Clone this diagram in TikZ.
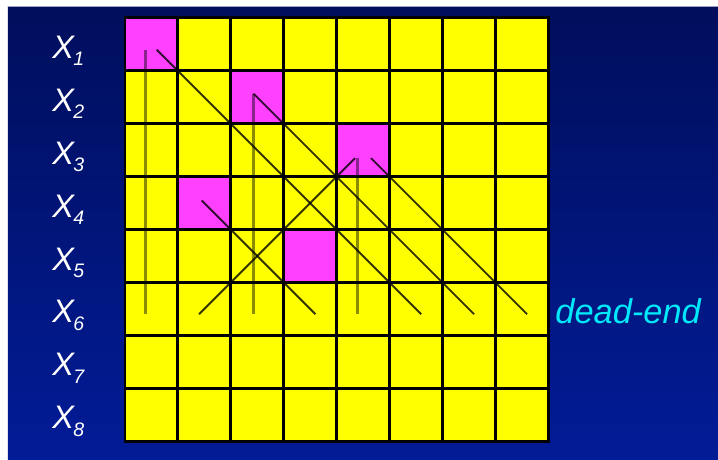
\documentclass[tikz,border=0pt]{standalone}
\usepackage{fontspec}
\setmainfont{Liberation Sans}
\usepackage{tikz}
\usetikzlibrary{positioning,calc}
\definecolor{slideTop}{RGB}{0,14,92}
\definecolor{slideBot}{RGB}{2,28,152}
\definecolor{rimGray}{RGB}{160,160,192}
\definecolor{cellYel}{RGB}{255,255,0}
\definecolor{queenMag}{RGB}{255,64,255}
\definecolor{deadCyan}{RGB}{0,232,250}

\begin{document}
\begin{tikzpicture}[x=1cm, y=-1cm,
  cell/.style={draw=black, line width=1.6pt, fill=cellYel, minimum size=1cm, inner sep=0pt, outer sep=0pt},
  queen/.style={cell, fill=queenMag},
  colline/.style={black, opacity=0.45, line width=1.6pt},
  diagline/.style={black, opacity=0.8, line width=1pt}]
\useasboundingbox (-2.363,-0.340) rectangle (11.21,8.355);
\fill[white] (-2.363,-0.340) rectangle (11.21,8.355);
\shade[top color=slideTop, bottom color=slideBot] (-2.212,-0.208) rectangle (11.4,8.5);
\draw[rimGray, line width=0.8pt] (-2.212,-0.215) -- (11.4,-0.215);
% board
\foreach \r in {1,...,8}
  \foreach \c in {1,...,8}
    \node[cell] (c-\r-\c) at (\c-0.5,\r-0.5) {};
\foreach \r/\c in {1/1,2/3,3/5,4/2,5/4}
  \node[queen] (q\r) at (\c-0.5,\r-0.5) {};
% attacks on row 6
\draw[colline] ([shift={(0.38,0.6)}]q1.north west) -- ([shift={(0.38,0.6)}]c-6-1.north west);
\draw[diagline] ([shift={(0.6,0.6)}]q1.north west) -- ([shift={(0.6,0.6)}]c-6-6.north west);
\draw[colline] ([shift={(0.43,0.43)}]q2.north west) -- ([shift={(0.43,0.6)}]c-6-3.north west);
\draw[diagline] ([shift={(0.43,0.43)}]q2.north west) -- ([shift={(0.6,0.6)}]c-6-7.north west);
\draw[colline] ([shift={(0.4,0.65)}]q3.north west) -- ([shift={(0.4,0.6)}]c-6-5.north west);
\draw[diagline] ([shift={(0.65,0.65)}]q3.north west) -- ([shift={(0.6,0.6)}]c-6-8.north west);
\draw[diagline] ([shift={(0.35,0.65)}]q3.north west) -- ([shift={(0.4,0.6)}]c-6-2.north west);
\draw[diagline] ([shift={(0.45,0.45)}]q4.north west) -- ([shift={(0.6,0.6)}]c-6-4.north west);
% row labels
\foreach \r in {1,...,8}
  \node[anchor=base west, white, inner sep=0pt, font=\fontsize{17.5}{17.5}\selectfont\itshape] (x\r)
    at ([shift={(-1.38,0.265)}]c-\r-1.west) {X\kern-0.02em\raisebox{-0.23em}{\fontsize{10.5}{10.5}\selectfont\r}};
\node[anchor=base west, deadCyan, inner sep=0pt, font=\fontsize{18.5}{18.5}\selectfont\itshape] (deadend)
  at ([shift={(0.13,0.27)}]c-6-8.east) {dead-end};
\end{tikzpicture}
\end{document}
